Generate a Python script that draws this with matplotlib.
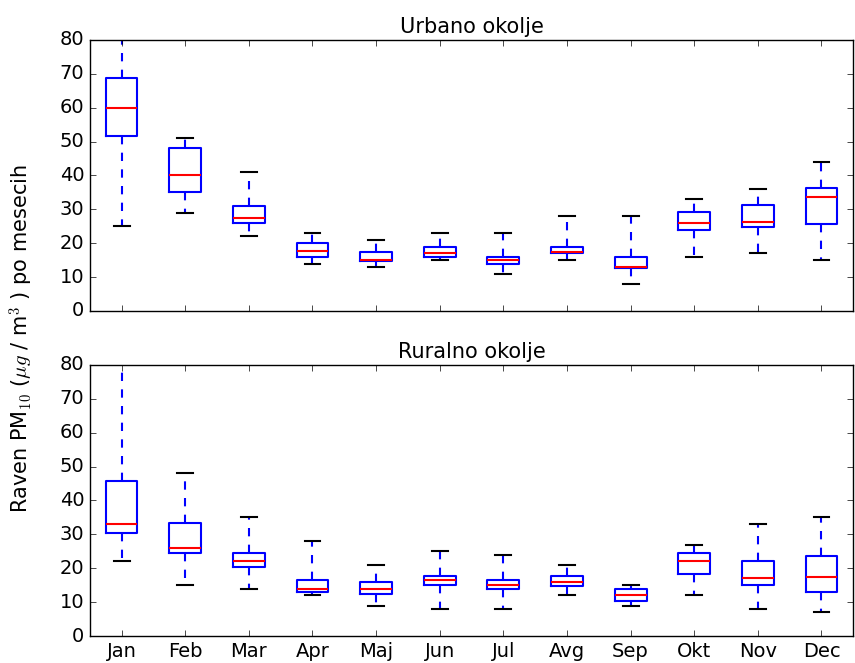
import matplotlib
matplotlib.use('Agg')
import matplotlib.pyplot as plt

plt.style.use('classic')

meseci = ['Jan', 'Feb', 'Mar', 'Apr', 'Maj', 'Jun',
          'Jul', 'Avg', 'Sep', 'Okt', 'Nov', 'Dec']

# urbano okolje: spodnji brk, Q1, mediana, Q3, zgornji brk
urb_lo  = [25, 29, 22, 14, 13, 15, 11, 15, 8, 16, 17, 15]
urb_q1  = [51.7, 35, 25.9, 15.8, 14.6, 15.9, 13.9, 17, 12.6, 24, 24.8, 25.7]
urb_med = [60, 40, 27.4, 17.6, 15, 17, 15, 17.5, 13, 26, 26.4, 33.5]
urb_q3  = [68.9, 48.2, 31, 20, 17.3, 19, 16, 19, 16, 29.2, 31.2, 36.3]
urb_hi  = [92, 51, 41, 23, 21, 23, 23, 28, 28, 33, 36, 44]

# ruralno okolje
rur_lo  = [22, 15, 14, 12, 9, 8, 8, 12, 9, 12, 8, 7]
rur_q1  = [30.3, 24.4, 20.4, 12.9, 12.5, 15, 13.9, 14.9, 10.2, 18.2, 15.2, 13]
rur_med = [33, 26, 22, 14, 14, 16.5, 15, 16, 12, 22, 17, 17.5]
rur_q3  = [45.9, 33.4, 24.5, 16.5, 16, 17.8, 16.5, 17.8, 13.8, 24.4, 22, 23.5]
rur_hi  = [95, 48, 35, 28, 21, 25, 24, 21, 15, 27, 33, 35]


def stats(lo, q1, med, q3, hi):
    return [dict(whislo=a, q1=b, med=c, q3=d, whishi=e, fliers=[])
            for a, b, c, d, e in zip(lo, q1, med, q3, hi)]


fig = plt.figure(figsize=(8.55, 6.63), dpi=100, facecolor='white')
ax1 = fig.add_axes([0.105, 0.531, 0.893, 0.4087])
ax2 = fig.add_axes([0.105, 0.0407, 0.893, 0.4088])

for ax, st, naslov in [(ax1, stats(urb_lo, urb_q1, urb_med, urb_q3, urb_hi), 'Urbano okolje'),
                       (ax2, stats(rur_lo, rur_q1, rur_med, rur_q3, rur_hi), 'Ruralno okolje')]:
    ax.bxp(st, widths=0.5, showfliers=False,
           boxprops=dict(color='b', linewidth=1.5),
           medianprops=dict(color='r', linewidth=1.5),
           whiskerprops=dict(color='b', linestyle='--', linewidth=1.5),
           capprops=dict(color='k', linewidth=1.5))
    ax.set_ylim(0, 80)
    ax.set_xlim(0.5, 12.5)
    ax.set_yticks(range(0, 81, 10))
    ax.set_title(naslov, fontsize=15, y=1.0)
    ax.set_facecolor('white')

ax1.set_xticks(range(1, 13))
ax1.set_xticklabels([])
ax2.set_xticks(range(1, 13))
ax2.set_xticklabels(meseci)
for ax in (ax1, ax2):
    ax.tick_params(labelsize=14)

fig.text(0.026, 0.49, r'Raven PM$_{10}$ ($\mu g$ / m$^3$ ) po mesecih',
         rotation=90, va='center', ha='center', fontsize=15)

fig.savefig('out.png', dpi=100, facecolor='white')
